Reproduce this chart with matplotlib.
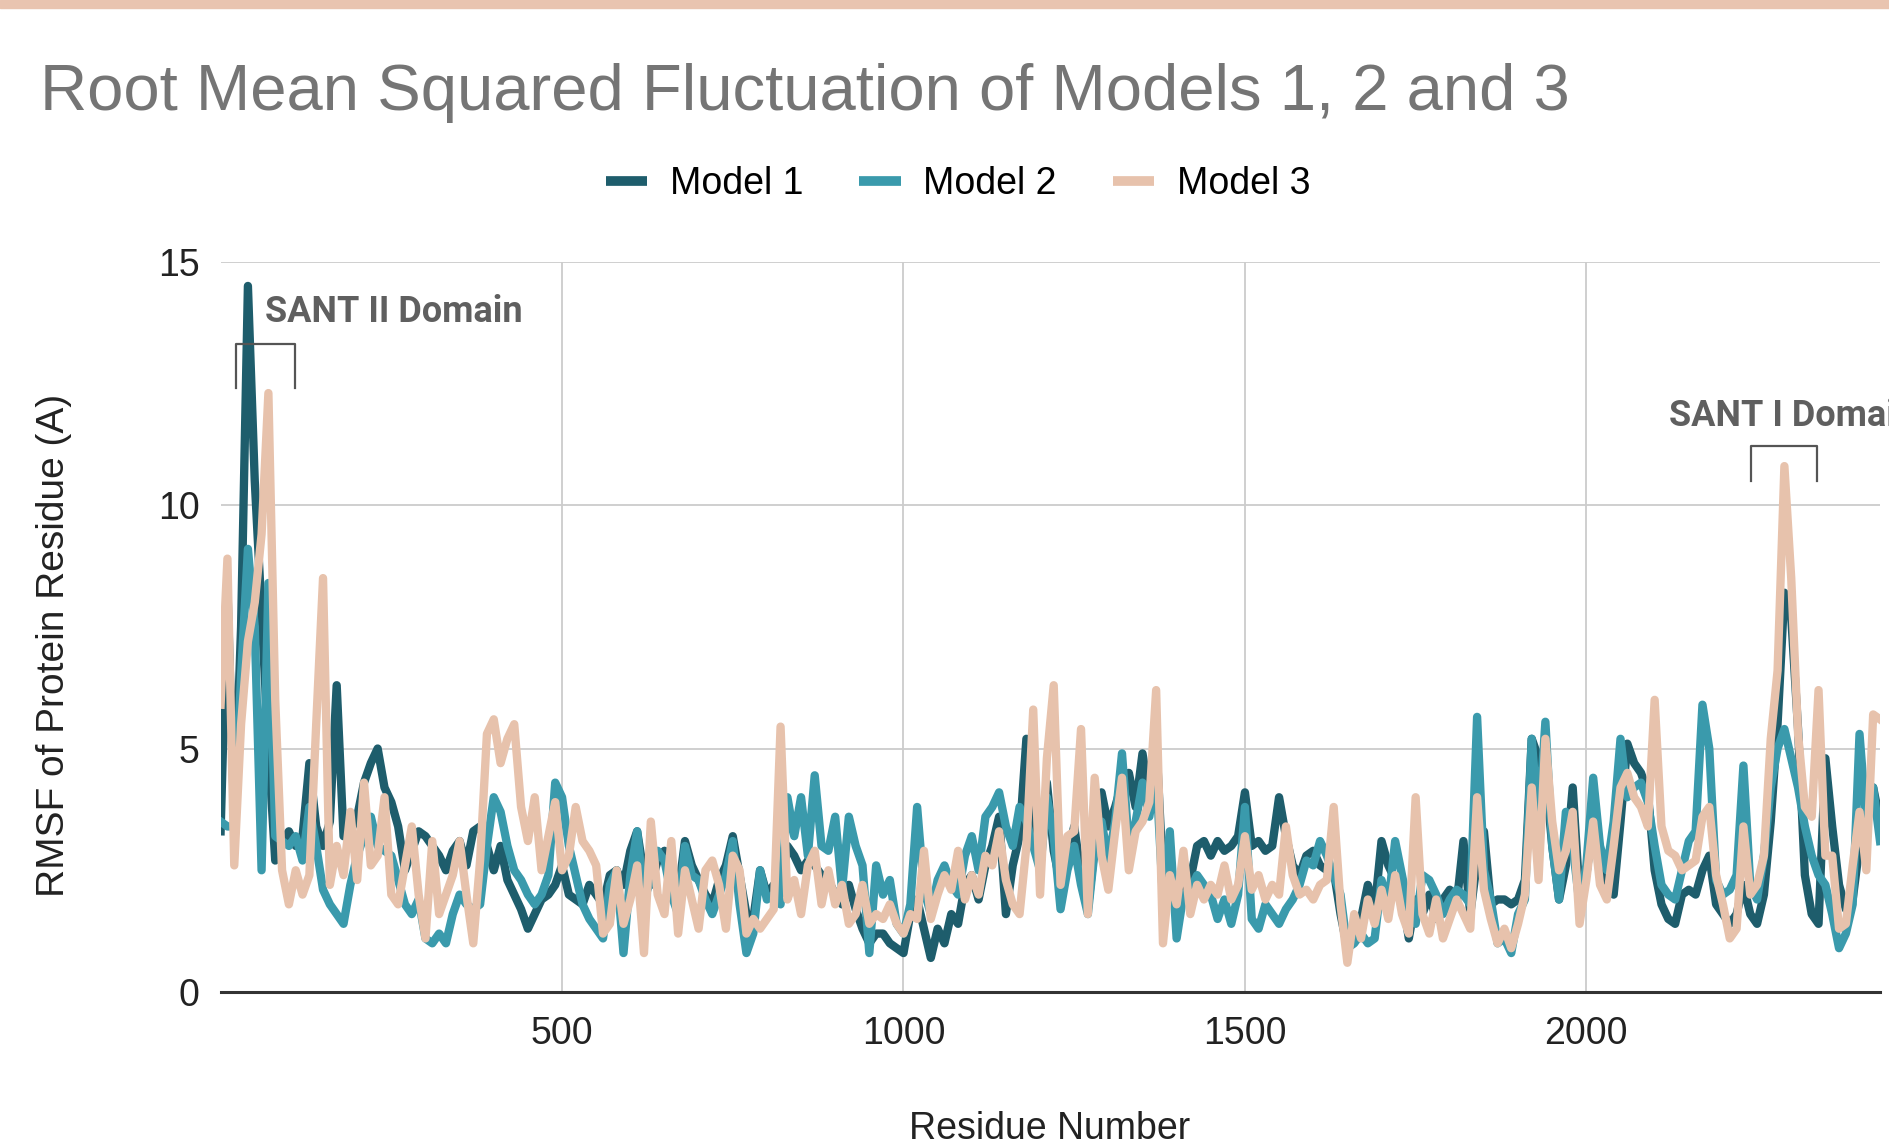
import numpy as np
import matplotlib
matplotlib.use("Agg")
import matplotlib.pyplot as plt
from matplotlib.lines import Line2D
from matplotlib.patches import Rectangle

# RMSF per residue, every 10 residues
model1 = [3.3, 8.3, 3.5, 7.5, 14.5, 10.5, 7.8, 5.0, 2.7, 3.1,
          3.3, 3.0, 3.2, 4.7, 3.4, 3.0, 3.5, 6.3, 3.2, 3.3,
          3.6, 4.3, 4.7, 5.0, 4.2, 3.9, 3.4, 2.5, 2.9, 3.3,
          3.2, 3.0, 2.8, 2.5, 2.9, 3.1, 2.6, 3.3, 3.4, 3.0,
          2.5, 3.0, 2.3, 2.0, 1.7, 1.3, 1.6, 1.9, 2.0,
          2.2, 2.6, 2.0, 1.9, 1.8, 2.2, 2.0, 1.8, 2.4, 2.5,
          2.2, 2.9, 3.3, 2.4, 2.2, 2.7, 2.9, 2.2, 2.0, 3.1,
          2.6, 2.3, 2.0, 1.8, 2.3, 2.6, 3.2, 2.4, 1.6, 1.5,
          2.5, 2.0, 2.2, 2.1, 3.0, 2.8, 2.5, 2.7, 2.6, 2.4,
          2.3, 2.0, 1.8, 2.2, 1.7, 1.3, 1.0, 1.2,
          1.2, 1.0, 0.9, 0.8, 1.6, 1.9, 1.3, 0.7, 1.3, 1.0,
          1.6, 1.4, 2.2, 2.4, 1.9, 2.6, 3.0, 3.6, 1.6, 2.6,
          3.2, 5.2, 3.7, 2.8, 4.3, 2.9, 2.2, 2.8, 3.4, 2.4,
          1.7, 3.0, 4.1, 3.4, 3.8, 4.3, 4.5, 3.8, 4.9, 4.0,
          5.2, 2.4, 2.8, 1.5, 2.5, 2.3, 3.0, 3.1, 2.8,
          3.1, 2.9, 3.0, 3.2, 4.1, 3.0, 3.1, 2.9, 3.0, 4.0,
          3.2, 2.6, 2.4, 2.8, 2.9, 2.6, 2.5, 2.5, 1.6, 0.9,
          1.3, 1.5, 2.2, 1.7, 3.1, 2.6, 2.3, 2.0, 1.1, 1.9,
          1.6, 2.0, 1.5, 1.9, 2.1, 1.8, 3.1, 1.6, 2.7, 3.3,
          1.8, 1.9, 1.9, 1.8, 1.9, 2.3, 5.2, 4.8,
          4.5, 3.0, 1.9, 2.6, 4.2, 2.0, 2.4, 3.5, 2.6, 2.2,
          2.0, 3.5, 5.1, 4.7, 4.5, 4.1, 2.5, 1.8, 1.5, 1.4,
          2.0, 2.1, 2.0, 2.5, 2.8, 1.8, 1.6, 1.4, 1.6, 2.2,
          1.6, 1.4, 2.0, 3.5, 5.5, 8.2, 7.7, 5.4, 2.4, 1.6,
          1.4, 4.8, 3.4, 2.2, 1.7, 1.9, 3.0, 3.4, 4.2, 3.5]

model2 = [3.5, 3.4, 3.4, 6.5, 9.1, 7.5, 2.5, 8.4, 3.2, 3.1,
          3.0, 3.2, 2.7, 3.8, 3.0, 2.1, 1.8, 1.6, 1.4, 2.2,
          2.8, 3.2, 3.6, 3.0, 2.9, 2.8, 2.3, 1.8, 1.6, 1.9,
          1.1, 1.0, 1.2, 1.0, 1.6, 2.0, 1.8, 1.7, 1.8, 3.0,
          4.0, 3.7, 3.0, 2.5, 2.3, 2.0, 1.8, 2.0, 2.4,
          4.3, 4.0, 3.0, 2.4, 1.8, 1.5, 1.3, 1.1, 2.2, 2.5,
          0.8, 2.4, 3.3, 1.9, 2.3, 2.9, 2.7, 2.0, 1.6, 3.0,
          2.4, 2.3, 1.9, 1.6, 2.0, 2.4, 3.1, 1.8, 0.8, 1.2,
          2.5, 1.9, 2.0, 1.8, 4.0, 3.2, 4.0, 2.8, 4.45, 3.0,
          2.9, 3.6, 2.1, 3.6, 3.0, 2.6, 0.8, 2.6,
          2.0, 2.3, 1.4, 1.2, 1.8, 3.8, 2.1, 1.6, 2.3, 2.6,
          2.2, 2.0, 2.8, 3.2, 2.5, 3.6, 3.8, 4.1, 3.4, 3.0,
          3.8, 3.5, 3.0, 2.5, 4.0, 3.2, 1.7, 2.5, 3.0, 2.2,
          1.6, 2.9, 3.5, 2.7, 3.5, 4.9, 3.0, 3.5, 4.3, 3.6,
          4.5, 1.9, 3.3, 1.1, 2.0, 2.1, 2.4, 2.2, 2.0,
          1.5, 1.9, 1.4, 2.0, 3.8, 1.5, 1.3, 1.8, 1.6, 1.4,
          1.7, 1.9, 2.2, 2.7, 2.6, 3.1, 2.8, 2.4, 2.0, 0.9,
          1.0, 1.2, 1.0, 1.1, 2.3, 1.8, 3.1, 2.4, 1.7, 1.4,
          2.4, 2.3, 2.0, 1.6, 1.9, 2.1, 2.0, 1.8, 5.65, 2.5,
          1.9, 1.0, 1.1, 0.8, 1.6, 1.9, 5.2, 3.4,
          5.55, 3.0, 1.9, 3.7, 3.0, 1.8, 2.6, 4.4, 3.0, 2.5,
          3.5, 5.2, 4.0, 4.2, 4.3, 3.9, 3.0, 2.2, 2.0, 1.9,
          2.5, 3.1, 3.3, 5.9, 5.0, 2.3, 2.0, 2.1, 2.4, 4.65,
          2.2, 1.9, 2.8, 4.2, 5.0, 5.4, 4.8, 4.2, 3.4, 2.8,
          2.4, 2.2, 1.6, 0.9, 1.2, 1.8, 5.3, 3.5, 4.2, 3.1]

model3 = [5.9, 8.9, 2.6, 5.5, 7.2, 8.0, 9.4, 12.3, 6.0, 2.5,
          1.8, 2.5, 2.0, 2.4, 5.5, 8.5, 2.2, 3.0, 2.4, 3.7,
          2.3, 4.3, 2.6, 2.8, 4.0, 2.0, 1.8, 2.6, 3.4, 2.0,
          1.1, 3.1, 1.6, 2.0, 2.4, 3.1, 2.0, 1.0, 2.7, 5.3,
          5.6, 4.7, 5.2, 5.5, 3.8, 3.1, 4.0, 2.5, 3.2,
          3.9, 2.5, 2.8, 3.8, 3.1, 2.9, 2.6, 1.2, 1.4, 2.5,
          1.4, 1.9, 2.6, 0.8, 3.5, 2.0, 1.6, 3.1, 1.2, 2.5,
          1.9, 1.3, 2.5, 2.7, 2.2, 1.3, 2.8, 2.5, 1.2, 1.5,
          1.3, 1.5, 1.7, 5.45, 1.9, 2.3, 1.6, 2.6, 2.9, 1.8,
          2.5, 1.8, 2.2, 1.4, 1.6, 2.2, 1.4, 1.6,
          1.5, 1.8, 1.4, 1.2, 1.6, 1.5, 2.9, 1.5, 2.0, 2.4,
          2.1, 2.9, 1.9, 2.4, 2.0, 2.8, 2.6, 3.3, 2.3, 1.8,
          1.6, 3.0, 5.8, 2.0, 4.8, 6.3, 2.2, 3.2, 3.3, 5.4,
          1.6, 4.4, 2.8, 2.1, 3.3, 4.4, 2.5, 3.3, 3.5, 3.9,
          6.2, 1.0, 2.4, 1.8, 2.9, 1.6, 2.2, 1.9, 2.2,
          2.0, 2.6, 1.9, 2.2, 3.2, 2.1, 2.4, 1.9, 2.2, 2.0,
          3.4, 2.4, 2.0, 2.1, 1.9, 2.2, 2.3, 3.8, 1.8, 0.6,
          1.6, 1.1, 1.9, 1.4, 2.1, 1.5, 2.4, 1.6, 1.2, 4.0,
          1.6, 1.2, 1.9, 1.1, 1.5, 1.9, 1.6, 1.3, 4.0, 2.1,
          1.5, 1.0, 1.3, 0.9, 1.4, 2.0, 4.2, 2.3,
          5.2, 3.5, 2.5, 2.9, 3.7, 1.4, 2.3, 3.5, 2.2, 1.9,
          3.0, 4.2, 4.5, 4.0, 3.8, 3.4, 6.0, 3.4, 2.9, 2.8,
          2.5, 2.6, 2.7, 3.6, 3.8, 2.4, 1.8, 1.1, 1.3, 3.4,
          2.0, 2.2, 2.8, 5.2, 6.6, 10.8, 8.5, 5.3, 3.8, 3.6,
          6.2, 2.8, 2.8, 1.3, 1.4, 2.6, 3.7, 2.5, 5.7, 5.6]

residue = np.arange(len(model1)) * 10

labels = ["Model 1", "Model 2", "Model 3"]
colors = ["#1e5d6c", "#3a9aac", "#e7c2ac"]

fig = plt.figure(figsize=(18.9, 11.42), dpi=100)
fig.patches.append(Rectangle((0, 1 - 8 / 1142), 1, 8 / 1142, transform=fig.transFigure,
                             color="#e9c4b0", zorder=0))

ax = fig.add_axes([220.6 / 1890, 1 - 992 / 1142, (1880 - 220.6) / 1890, (992 - 261.6) / 1142])
for ys, c in zip([model1, model2, model3], colors):
    ax.plot(residue, ys, color=c, lw=6)

ax.set_xlim(0, 2430)
ax.set_ylim(0, 15)
ax.set_xticks([500, 1000, 1500, 2000])
ax.set_yticks([0, 5, 10, 15])
ax.grid(color="#cccccc", lw=1.3)
ax.set_axisbelow(True)
for s in ["left", "right", "top"]:
    ax.spines[s].set_visible(False)
ax.spines["bottom"].set_color("#333333")
ax.spines["bottom"].set_linewidth(2.2)
ax.tick_params(length=0, labelsize=27, labelcolor="#222222")
ax.tick_params(axis="y", pad=15)
ax.tick_params(axis="x", pad=17)
for t in ax.get_xticklabels() + ax.get_yticklabels():
    t.set_family("Liberation Sans")

# domain annotations
ax.text(65, 13.97, "SANT II Domain", fontsize=26, fontweight="bold", family="Roboto",
        color="#5f5f5f", va="center", ha="left")
ax.plot([23, 23, 109, 109], [12.4, 13.3, 13.3, 12.4], color="#555555", lw=1.6, clip_on=False)
ax.text(2121, 11.83, "SANT I Domain", fontsize=26, fontweight="bold", family="Roboto",
        color="#5f5f5f", va="center", ha="left", clip_on=False)
ax.plot([2241, 2241, 2338, 2338], [10.5, 11.21, 11.21, 10.5], color="#555555", lw=1.6, clip_on=False)

fig.text(40 / 1890, 1 - 110 / 1142, "Root Mean Squared Fluctuation of Models 1, 2 and 3",
         fontsize=47, color="#757575", family="Liberation Sans", va="baseline", ha="left")

handles = [Line2D([], [], color=c, lw=7, solid_capstyle="butt") for c in colors]
fig.legend(handles, labels, loc="center", bbox_to_anchor=(958 / 1890, 1 - 184 / 1142), ncol=3,
           frameon=False, prop={"family": "Liberation Sans", "size": 27},
           handlelength=1.1, handletextpad=0.6, columnspacing=1.5)

fig.text(54 / 1890, 1 - 645 / 1142, "RMSF of Protein Residue (A)", rotation=90, fontsize=28,
         family="Liberation Sans", color="#222222", va="center", ha="center")
fig.text(1050 / 1890, 3 / 1142, "Residue Number", fontsize=27, family="Liberation Sans",
         color="#222222", va="baseline", ha="center")

fig.savefig("out.png", dpi=100)
